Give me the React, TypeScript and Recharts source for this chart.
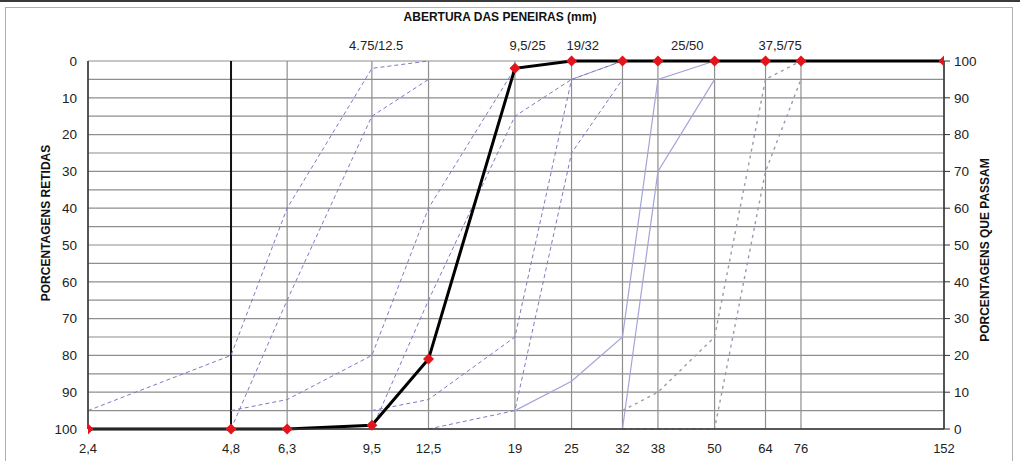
import React from 'react';
import { ComposedChart, Line, XAxis, YAxis, CartesianGrid, ReferenceLine } from 'recharts';

// Sieve openings (mm) and their printed labels
const sieves = [2.4, 4.8, 6.3, 9.5, 12.5, 19, 25, 32, 38, 50, 64, 76, 152];
const sieveLabels = ['2,4', '4,8', '6,3', '9,5', '12,5', '19', '25', '32', '38', '50', '64', '76', '152'];

// Axis ticks
const retainedTicks = [0, 5, 10, 15, 20, 25, 30, 35, 40, 45, 50, 55, 60, 65, 70, 75, 80, 85, 90, 95, 100];
const passingTicks = [0, 10, 20, 30, 40, 50, 60, 70, 80, 90, 100];

// Granulometric zone names and where (mm) they are printed above the plot
const zoneNames = ['4.75/12.5', '9,5/25', '19/32', '25/50', '37,5/75'];
const zoneLabelAt = [9.7, 20.2, 26.4, 43.8, 68.7];

// Sample: cumulative % retained at each sieve
const sampleRetained = [100, 100, 100, 99, 81, 2, 0, 0, 0, 0, 0, 0, 0];

// Zone limits (cumulative % retained)
const z1MinSieves = [2.4, 4.8, 6.3, 9.5, 12.5];
const z1MinRetained = [95, 80, 40, 2, 0];
const z1MaxSieves = [4.8, 6.3, 9.5, 12.5];
const z1MaxRetained = [100, 65, 15, 5];

const z2MinSieves = [4.8, 6.3, 9.5, 12.5, 19, 25];
const z2MinRetained = [95, 92, 80, 40, 2, 0];
const z2MaxSieves = [9.5, 12.5, 19, 25, 32];
const z2MaxRetained = [100, 65, 15, 5, 0];

const z3MinSieves = [9.5, 12.5, 19, 25, 32];
const z3MinRetained = [95, 92, 75, 5, 0];
const z3MaxSieves = [12.5, 19, 25, 32];
const z3MaxRetained = [100, 95, 25, 5];

const z4MinSieves = [19, 25, 32, 38, 50];
const z4MinRetained = [95, 87, 75, 5, 0];
const z4MaxSieves = [32, 38, 50];
const z4MaxRetained = [100, 30, 5];

const z5MinSieves = [32, 38, 50, 64, 76];
const z5MinRetained = [95, 90, 75, 5, 0];
const z5MaxSieves = [32, 38, 50, 64, 76];
const z5MaxRetained = [100, 100, 100, 30, 5];

const zip = (xs: number[], ys: number[]) => xs.map((s, i) => ({ s, r: ys[i] }));

const sampleData = zip(sieves, sampleRetained);

const DASH_COLOR = '#7b7bc4';
const SOLID_COLOR = '#a4a4d8';
const DOT_COLOR = '#9a9ab2';

const zoneLines = [
  { key: 'z1min', data: zip(z1MinSieves, z1MinRetained), stroke: DASH_COLOR, dash: '4 3', w: 1 },
  { key: 'z1max', data: zip(z1MaxSieves, z1MaxRetained), stroke: DASH_COLOR, dash: '4 3', w: 1 },
  { key: 'z2min', data: zip(z2MinSieves, z2MinRetained), stroke: DASH_COLOR, dash: '4 3', w: 1 },
  { key: 'z2max', data: zip(z2MaxSieves, z2MaxRetained), stroke: DASH_COLOR, dash: '4 3', w: 1 },
  { key: 'z3min', data: zip(z3MinSieves, z3MinRetained), stroke: DASH_COLOR, dash: '4 3', w: 1 },
  { key: 'z3max', data: zip(z3MaxSieves, z3MaxRetained), stroke: DASH_COLOR, dash: '4 3', w: 1 },
  { key: 'z4min', data: zip(z4MinSieves, z4MinRetained), stroke: SOLID_COLOR, dash: undefined, w: 1.2 },
  { key: 'z4max', data: zip(z4MaxSieves, z4MaxRetained), stroke: SOLID_COLOR, dash: undefined, w: 1.2 },
  { key: 'z5min', data: zip(z5MinSieves, z5MinRetained), stroke: DOT_COLOR, dash: '3 4', w: 1.4 },
  { key: 'z5max', data: zip(z5MaxSieves, z5MaxRetained), stroke: DOT_COLOR, dash: '3 4', w: 1.4 },
];

const FONT = '"Liberation Sans", Arial, Helvetica, sans-serif';

const Diamond = (props: any) => {
  const { cx, cy, index } = props;
  if (cx == null || cy == null) return <g key={`d-${index}`} />;
  const h = 5.5;
  return (
    <polygon
      key={`d-${index}`}
      points={`${cx},${cy - h} ${cx + h},${cy} ${cx},${cy + h} ${cx - h},${cy}`}
      fill="#e3141b"
      stroke="none"
    />
  );
};

const labelFor = (v: number) => {
  const i = sieves.indexOf(v);
  return i >= 0 ? sieveLabels[i] : String(v);
};

const zoneFor = (v: number, i: number) => {
  const k = zoneLabelAt.indexOf(v);
  return k >= 0 ? zoneNames[k] : zoneNames[i] ?? '';
};

export default function App() {
  return (
    <div style={{ position: 'absolute', left: 0, top: 0, width: 1020, height: 461, background: '#fff', overflow: 'hidden', fontFamily: FONT }}>
      <div style={{ position: 'absolute', left: 0, top: 0, width: 1020, height: 2, background: '#3a3a3a' }} />
      <div style={{ position: 'absolute', left: 5, top: 7, width: 1008, height: 470, border: '1px solid #b0b0b0', boxSizing: 'border-box' }} />
      <div style={{ position: 'absolute', left: 0, top: 0 }}>
        <ComposedChart width={1020} height={461} margin={{ top: 0, right: 26, bottom: 10, left: 28 }}>
          <CartesianGrid stroke="#8e8e8e" strokeWidth={1.2} verticalPoints={undefined} />
          <XAxis
            dataKey="s"
            type="number"
            scale="log"
            domain={[2.4, 152]}
            allowDataOverflow
            ticks={sieves}
            interval={0}
            tickFormatter={labelFor}
            height={22}
            tickLine={false}
            tickSize={0}
            tickMargin={15}
            axisLine={{ stroke: '#333', strokeWidth: 1.5 }}
            tick={{ fill: '#222', fontSize: 13, fontFamily: FONT }}
          />
          <XAxis
            xAxisId="top"
            orientation="top"
            dataKey="s"
            type="number"
            scale="log"
            domain={[2.4, 152]}
            allowDataOverflow
            ticks={zoneLabelAt}
            interval={0}
            tickFormatter={zoneFor}
            height={61}
            tickLine={false}
            axisLine={false}
            tickSize={0}
            tickMargin={11}
            tick={{ fill: '#222', fontSize: 13, fontFamily: FONT }}
            label={{
              content: () => (
                <text x={500} y={21} textAnchor="middle" fontFamily={FONT} fontSize={12} fontWeight="bold" fill="#111">
                  ABERTURA DAS PENEIRAS (mm)
                </text>
              ),
            }}
          />
          <YAxis
            type="number"
            domain={[0, 100]}
            reversed
            ticks={retainedTicks}
            interval={0}
            tickFormatter={(v: number) => (v % 10 === 0 ? String(v) : '')}
            width={60}
            tickLine={false}
            tickSize={0}
            tickMargin={11}
            axisLine={{ stroke: '#333', strokeWidth: 1.5 }}
            tick={{ fill: '#222', fontSize: 13.5, fontFamily: FONT }}
            label={{
              content: () => (
                <text x={46} y={223} transform="rotate(-90 46 223)" textAnchor="middle" dominantBaseline="central" fontFamily={FONT} fontSize={12} fontWeight="bold" fill="#111">
                  PORCENTAGENS RETIDAS
                </text>
              ),
            }}
          />
          <YAxis
            yAxisId="right"
            orientation="right"
            type="number"
            domain={[0, 100]}
            allowDataOverflow
            ticks={passingTicks}
            interval={0}
            width={50}
            tickSize={6}
            tickMargin={4}
            tickLine={{ stroke: '#333' }}
            axisLine={{ stroke: '#333', strokeWidth: 1.5 }}
            tick={{ fill: '#222', fontSize: 13.5, fontFamily: FONT }}
            label={{
              content: () => (
                <text x={985} y={250} transform="rotate(-90 985 250)" textAnchor="middle" dominantBaseline="central" fontFamily={FONT} fontSize={12} fontWeight="bold" fill="#111">
                  PORCENTAGENS QUE PASSAM
                </text>
              ),
            }}
          />
          <ReferenceLine x={4.8} stroke="#111" strokeWidth={2} />
          {zoneLines.map((z) => (
            <Line
              key={z.key}
              data={z.data}
              dataKey="r"
              type="linear"
              stroke={z.stroke}
              strokeWidth={z.w}
              strokeDasharray={z.dash}
              dot={false}
              activeDot={false}
              isAnimationActive={false}
            />
          ))}
          <Line
            data={sampleData}
            dataKey="r"
            type="linear"
            stroke="#000"
            strokeWidth={3}
            dot={<Diamond />}
            activeDot={false}
            isAnimationActive={false}
          />
        </ComposedChart>
      </div>
    </div>
  );
}
